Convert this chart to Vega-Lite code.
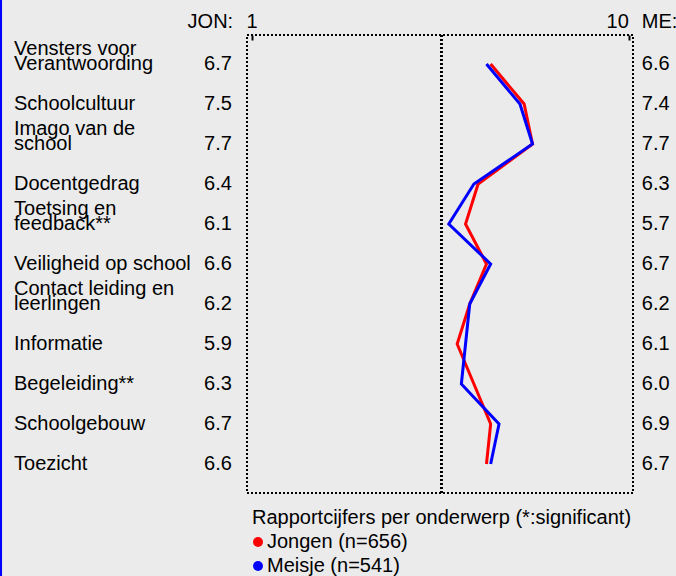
{
  "$schema": "https://vega.github.io/schema/vega-lite/v6.json",
  "width": 386,
  "height": 458,
  "autosize": {"type": "none"},
  "padding": {"left": 247, "top": 35, "right": 43, "bottom": 83},
  "background": "#ebebeb",
  "config": {
    "view": {"stroke": "black", "strokeDash": [2, 2], "strokeWidth": 2},
    "text": {"font": "Liberation Sans", "fontSize": 20, "color": "#000000"}
  },
  "datasets": {
    "rows": [
      {"nr": 1, "onderwerp": "Vensters voor\nVerantwoording", "regels": 2, "JON": 6.7, "ME": 6.6},
      {"nr": 2, "onderwerp": "Schoolcultuur", "regels": 1, "JON": 7.5, "ME": 7.4},
      {"nr": 3, "onderwerp": "Imago van de\nschool", "regels": 2, "JON": 7.7, "ME": 7.7},
      {"nr": 4, "onderwerp": "Docentgedrag", "regels": 1, "JON": 6.4, "ME": 6.3},
      {"nr": 5, "onderwerp": "Toetsing en\nfeedback**", "regels": 2, "JON": 6.1, "ME": 5.7},
      {"nr": 6, "onderwerp": "Veiligheid op school", "regels": 1, "JON": 6.6, "ME": 6.7},
      {"nr": 7, "onderwerp": "Contact leiding en\nleerlingen", "regels": 2, "JON": 6.2, "ME": 6.2},
      {"nr": 8, "onderwerp": "Informatie", "regels": 1, "JON": 5.9, "ME": 6.1},
      {"nr": 9, "onderwerp": "Begeleiding**", "regels": 1, "JON": 6.3, "ME": 6.0},
      {"nr": 10, "onderwerp": "Schoolgebouw", "regels": 1, "JON": 6.7, "ME": 6.9},
      {"nr": 11, "onderwerp": "Toezicht", "regels": 1, "JON": 6.6, "ME": 6.7}
    ]
  },
  "data": {"name": "rows"},
  "resolve": {"scale": {"y": "independent"}},
  "layer": [
    {
      "encoding": {
        "y": {"field": "onderwerp", "type": "nominal", "sort": null, "axis": null, "scale": {"type": "point", "padding": 0.725}}
      },
      "layer": [
        {
          "mark": {"type": "rule", "stroke": "black", "strokeWidth": 2, "strokeDash": [2, 2]},
          "encoding": {
            "x": {"datum": 5.52, "type": "quantitative", "scale": {"domain": [0.88, 10.1], "nice": false, "zero": false},
              "axis": {"orient": "top", "values": [1, 10], "labels": false, "domain": false, "grid": false, "tickSize": -5, "tickWidth": 2, "tickColor": "black", "title": null}},
            "y": null
          }
        },
        {
          "transform": [{"fold": ["JON", "ME"], "as": ["groep", "cijfer"]}],
          "mark": {"type": "line", "strokeWidth": 3},
          "encoding": {
            "x": {"field": "cijfer", "type": "quantitative"},
            "color": {"field": "groep", "type": "nominal",
              "scale": {"domain": ["JON", "ME"], "range": ["#ff0000", "#0000ff"]},
              "legend": {"orient": "bottom", "direction": "vertical", "title": "Rapportcijfers per onderwerp (*:significant)",
                "titleFont": "Liberation Sans", "titleFontSize": 20, "titleFontWeight": "normal", "titleColor": "black", "titleLimit": 600,
                "labelFont": "Liberation Sans", "labelFontSize": 20, "labelColor": "black", "labelLimit": 400,
                "labelExpr": "datum.value == 'JON' ? 'Jongen (n=656)' : 'Meisje (n=541)'",
                "symbolType": "circle", "symbolSize": 100, "symbolStrokeWidth": 0, "symbolOffset": -4, "rowPadding": 4, "titlePadding": 4, "offset": 10, "padding": 5, "labelOffset": -1,
                "encode": {"symbols": {"update": {"fill": {"scale": "color", "field": "value"}, "opacity": {"value": 1}}}}},
              "sort": ["JON", "ME"]},
            "detail": {"field": "groep"},
            "order": {"field": "nr", "type": "quantitative"}
          }
        },
        {
          "transform": [{"filter": "datum.regels == 1"}],
          "mark": {"type": "text", "align": "left", "baseline": "middle"},
          "encoding": {
            "x": {"datum": -4.685, "type": "quantitative"},
            "text": {"field": "onderwerp"}
          }
        },
        {
          "transform": [{"filter": "datum.regels == 2"}],
          "mark": {"type": "text", "align": "left", "baseline": "middle", "lineBreak": "\n", "lineHeight": 15, "dy": -15},
          "encoding": {
            "x": {"datum": -4.685, "type": "quantitative"},
            "text": {"field": "onderwerp"}
          }
        },
        {
          "mark": {"type": "text", "align": "right", "baseline": "middle"},
          "encoding": {
            "x": {"datum": 0.52, "type": "quantitative"},
            "text": {"field": "JON", "type": "quantitative", "format": ".1f"}
          }
        },
        {
          "mark": {"type": "text", "align": "left", "baseline": "middle"},
          "encoding": {
            "x": {"datum": 10.31, "type": "quantitative"},
            "text": {"field": "ME", "type": "quantitative", "format": ".1f"}
          }
        },
        {
          "data": {"values": [{"kop": "JON:"}]},
          "mark": {"type": "text", "align": "right", "baseline": "middle", "dy": -42},
          "encoding": {
            "x": {"datum": 0.55, "type": "quantitative"},
            "y": {"datum": "Vensters voor\nVerantwoording"},
            "text": {"field": "kop"}
          }
        },
        {
          "data": {"values": [{"kop": "1"}]},
          "mark": {"type": "text", "align": "center", "baseline": "middle", "dy": -42},
          "encoding": {
            "x": {"datum": 1, "type": "quantitative"},
            "y": {"datum": "Vensters voor\nVerantwoording"},
            "text": {"field": "kop"}
          }
        },
        {
          "data": {"values": [{"kop": "10"}]},
          "mark": {"type": "text", "align": "right", "baseline": "middle", "dy": -42},
          "encoding": {
            "x": {"datum": 10, "type": "quantitative"},
            "y": {"datum": "Vensters voor\nVerantwoording"},
            "text": {"field": "kop"}
          }
        },
        {
          "data": {"values": [{"kop": "ME:"}]},
          "mark": {"type": "text", "align": "left", "baseline": "middle", "dy": -42},
          "encoding": {
            "x": {"datum": 10.31, "type": "quantitative"},
            "y": {"datum": "Vensters voor\nVerantwoording"},
            "text": {"field": "kop"}
          }
        }
      ]
    },
    {
      "data": {"values": [{"rand": "links"}]},
      "mark": {"type": "rule", "stroke": "#0000ff", "strokeWidth": 2.4},
      "encoding": {
        "x": {"datum": -5.0, "type": "quantitative"},
        "y": {"datum": 1.08, "type": "quantitative", "axis": null, "scale": {"domain": [0, 1], "nice": false, "zero": false}},
        "y2": {"datum": -0.19}
      }
    }
  ]
}
